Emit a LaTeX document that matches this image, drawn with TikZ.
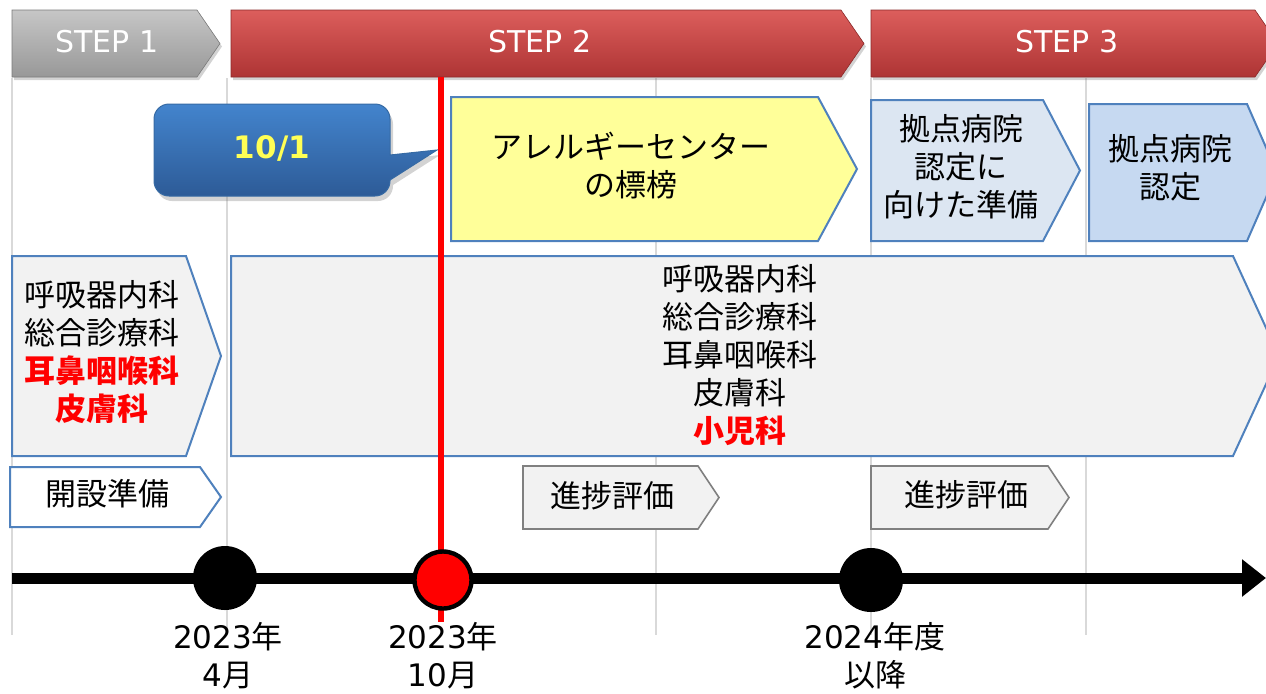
\documentclass[tikz,border=0pt]{standalone}
\usepackage{fontspec}
\setmainfont{Noto Sans CJK JP}
\newfontfamily\latinfont{DejaVu Sans}
\usetikzlibrary{shadows,arrows.meta}
\definecolor{accblue}{HTML}{4F81BD}
\definecolor{lgray}{HTML}{F2F2F2}
\definecolor{gridc}{HTML}{D9D9D9}
\definecolor{pyellow}{HTML}{FFFF99}
\definecolor{pblue1}{HTML}{DCE6F2}
\definecolor{pblue2}{HTML}{C6D9F1}
\definecolor{redtop}{HTML}{DC5E5C}
\definecolor{redmid}{HTML}{C94242}
\definecolor{redbot}{HTML}{AE3434}
\definecolor{graytop}{HTML}{C6C6C6}
\definecolor{graymid}{HTML}{B0B0B0}
\definecolor{graybot}{HTML}{989898}
\definecolor{calltop}{HTML}{4384CD}
\definecolor{callbot}{HTML}{2D5B97}
\definecolor{txtyellow}{HTML}{FFFF55}
\newcommand\pentshape[6]{%
  \path[#1] (#2,#3) -- (#4,#3) -- (#5,{(#3+#6)/2}) -- (#4,#6) -- (#2,#6) -- cycle;}
\begin{document}
\begin{tikzpicture}[x=0.5pt,y=-0.5pt,
  jp/.style={font=\fontsize{15.5}{19}\selectfont, align=center, inner sep=0pt},
  steplbl/.style={font=\fontsize{15}{18}\selectfont\latinfont, text=white, inner sep=0pt},
  redstep/.style={top color=redtop, middle color=redmid, bottom color=redbot, draw=redbot!80!black, line width=0.3pt,
     drop shadow={shadow xshift=1pt, shadow yshift=-1.5pt, opacity=0.35}},
  graystep/.style={top color=graytop, middle color=graymid, bottom color=graybot, draw=graybot!80!black, line width=0.3pt,
     drop shadow={shadow xshift=1pt, shadow yshift=-1.5pt, opacity=0.35}},
  bluebox/.style={draw=accblue, line width=1pt},
  graybox/.style={draw=gray, fill=lgray, line width=0.8pt},
  gridline/.style={draw=gridc, line width=0.6pt},
  dot/.style={circle, inner sep=0pt}
]
\useasboundingbox (0,0) rectangle (1266,693);
\clip (0,0) rectangle (1266,693);

% grid lines
\foreach \gx in {12,227,656,871,1086} {\draw[gridline] (\gx,78) -- (\gx,635);}

% step banners
\pentshape{graystep}{12}{10}{197}{220}{77}
\pentshape{redstep}{231}{10}{841}{864}{77}
\pentshape{redstep}{871}{10}{1255}{1278}{77}
\node[steplbl] (s1) at (107,42) {STEP 1};
\node[steplbl] (s2) at (540,42) {STEP 2};
\node[steplbl] (s3) at (1067,42) {STEP 3};

% callout
\coordinate (ctip) at (437,150);
\path[top color=calltop, bottom color=callbot, draw=calltop!80!black, line width=0.5pt,
      drop shadow={shadow xshift=1.5pt, shadow yshift=-2.5pt, opacity=0.35}]
  [rounded corners=7.5pt] (390,155) -- (390,104) -- (154,104) -- (154,196) -- (390,196) [sharp corners] -- (390,180) -- (ctip) -- cycle;
\node[font=\fontsize{15.5}{19}\selectfont\latinfont\bfseries, text=txtyellow, inner sep=0pt] (d101) at (272,148) {10/1};

% upper pentagons
\pentshape{bluebox, fill=pyellow}{451}{97}{818}{857}{241}
\node[jp] (allergy) at (631,166) {アレルギーセンター\\の標榜};
\pentshape{bluebox, fill=pblue1}{871}{100}{1043}{1080}{241}
\node[jp] (prep) at (961,167) {拠点病院\\認定に\\向けた準備};
\pentshape{bluebox, fill=pblue2}{1089}{104}{1247}{1277}{241}
\node[jp] (cert) at (1170,168) {拠点病院\\認定};

% department pentagons
\pentshape{bluebox, fill=lgray}{12}{256}{186}{221}{456}
\node[jp] (dep1) at (102,352) {呼吸器内科\\総合診療科\\\textcolor{red}{\bfseries 耳鼻咽喉科}\\\textcolor{red}{\bfseries 皮膚科}};
\pentshape{bluebox, fill=lgray}{231}{256}{1233}{1279}{456}
\node[jp] (dep2) at (740,355) {呼吸器内科\\総合診療科\\耳鼻咽喉科\\皮膚科\\\textcolor{red}{\bfseries 小児科}};

% small pentagons
\pentshape{bluebox, fill=white}{10}{467}{200}{221}{527}
\node[jp] (open) at (108,494) {開設準備};
\pentshape{graybox}{523}{466}{698}{719}{529}
\node[jp] (eval1) at (612,496) {進捗評価};
\pentshape{graybox}{871}{466}{1048}{1069}{529}
\node[jp] (eval2) at (966,495) {進捗評価};

% red vertical line
\coordinate (rtop) at (441,77);
\coordinate (rbot) at (441,622);
\draw[red, line width=3pt] (rtop) -- (rbot);

% timeline
\coordinate (tl0) at (12,578);
\coordinate (tl1) at (1266,578);
\draw[line width=5.5pt, -{Triangle[length=12pt,width=18pt]}] (tl0) -- (tl1);
\node[dot, fill=black, minimum size=32pt] (m1) at (225,578) {};
\node[dot, fill=red, draw=black, line width=2.2pt, minimum size=28.5pt] (m2) at (443,580) {};
\node[dot, fill=black, minimum size=32pt] (m3) at (871,580) {};

\node[jp] (y1) at (228,656) {{\latinfont 2023}年\\{\latinfont 4}月};
\node[jp] (y2) at (443,656) {{\latinfont 2023}年\\{\latinfont 10}月};
\node[jp] (y3) at (875,656) {{\latinfont 2024}年度\\以降};
\end{tikzpicture}
\end{document}
